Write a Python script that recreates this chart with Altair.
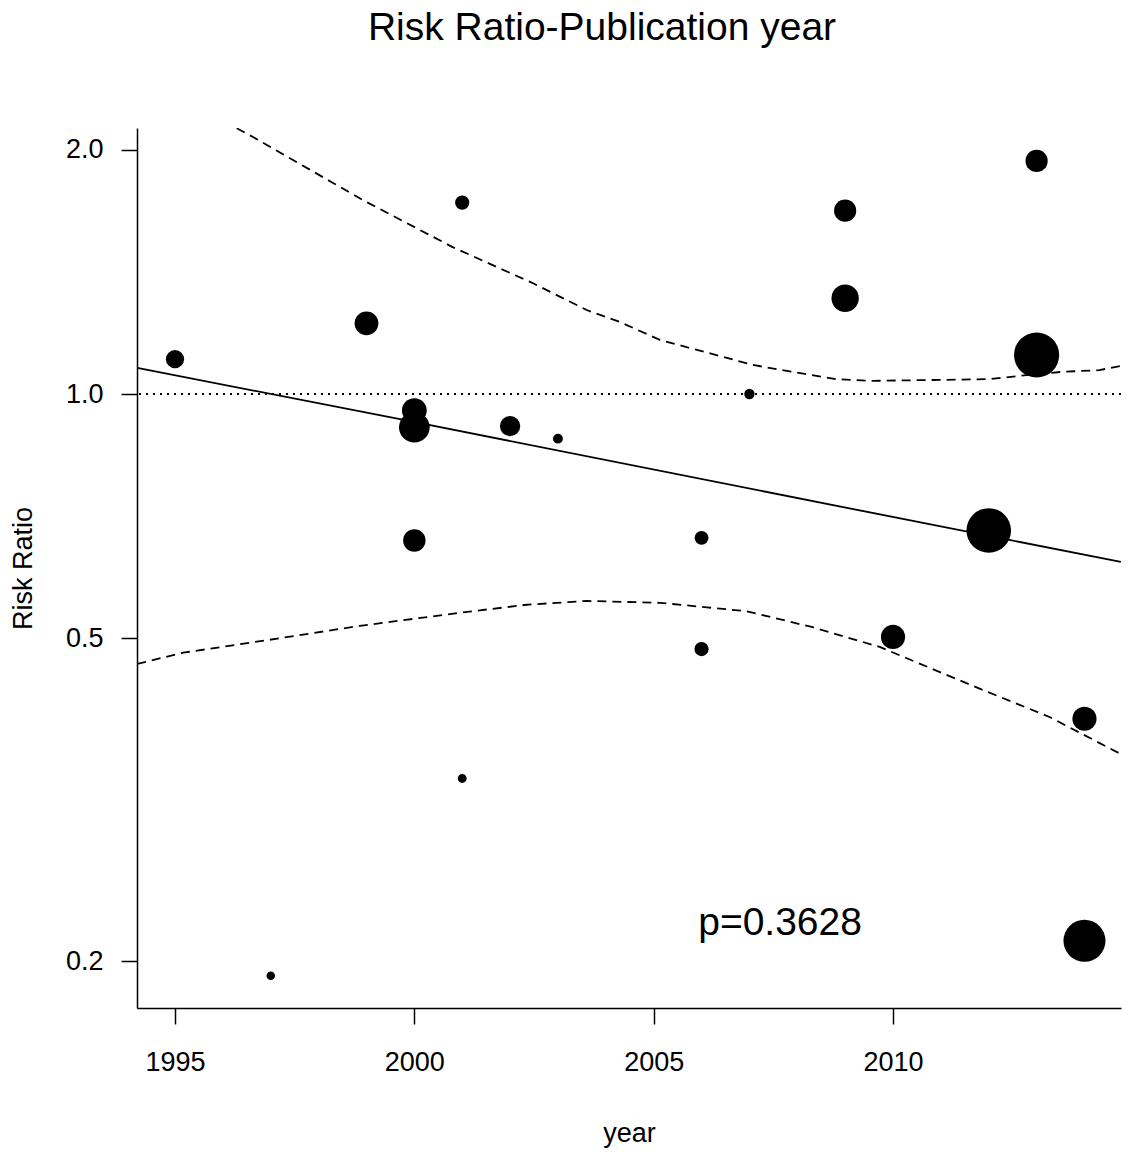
import altair as alt
import pandas as pd

# Study-level risk ratios by publication year; weight (%) sets bubble area
study_year = [1995, 1997, 1999, 2000, 2000, 2000, 2001, 2001, 2002, 2003,
              2006, 2006, 2007, 2009, 2009, 2010, 2012, 2013, 2013, 2014, 2014]
study_rr = [1.104, 0.192, 1.222, 0.954, 0.910, 0.660, 1.721, 0.336, 0.913, 0.881,
            0.665, 0.485, 1.000, 1.682, 1.312, 0.502, 0.679, 1.937, 1.117, 0.398, 0.212]
study_weight = [2.55, 0.56, 4.35, 4.72, 7.25, 3.85, 1.56, 0.61, 3.20, 0.75,
                1.48, 1.56, 0.82, 3.79, 5.75, 4.50, 15.3, 3.79, 15.7, 4.50, 13.6]

# Meta-regression fit
fit_year = [1994.21, 1999.70, 2009.09, 2014.76]
fit_rr = [1.077, 0.931, 0.723, 0.621]

# 95% confidence band around the fit
upper_year = [1996.29, 1996.63, 1998.30, 1998.92, 2000.80, 2002.47, 2003.60, 2004.29,
              2005.13, 2007.07, 2007.69, 2008.82, 2009.57, 2012.01, 2012.79, 2013.54,
              2014.31, 2014.76]
upper_rr = [2.125, 2.073, 1.820, 1.734, 1.517, 1.370, 1.269, 1.227,
            1.166, 1.086, 1.070, 1.043, 1.038, 1.043, 1.055, 1.065,
            1.070, 1.083]
lower_year = [1994.21, 1995.17, 1996.98, 1998.86, 2001.10, 2002.35, 2003.60, 2005.13,
              2006.11, 2006.94, 2008.32, 2009.72, 2011.87, 2013.27, 2014.76]
lower_rr = [0.465, 0.480, 0.498, 0.518, 0.539, 0.550, 0.556, 0.553,
            0.546, 0.540, 0.516, 0.488, 0.432, 0.400, 0.360]

# Axis ranges and ticks
x_domain = [1994.206, 2014.763]
y_domain = [0.1752, 2.1268]
x_ticks = [1995, 2000, 2005, 2010]
y_ticks = [0.2, 0.5, 1.0, 2.0]

# Annotation
p_label = "p=0.3628"
p_year = 2005.93
p_rr = 0.2155

FONT = "Liberation Sans"

studies = pd.DataFrame({"year": study_year, "rr": study_rr, "weight": study_weight})
fit = pd.DataFrame({"year": fit_year, "rr": fit_rr})
upper = pd.DataFrame({"year": upper_year, "rr": upper_rr})
lower = pd.DataFrame({"year": lower_year, "rr": lower_rr})
note = pd.DataFrame({"year": [p_year], "rr": [p_rr], "label": [p_label]})

x_enc = alt.X(
    "year:Q",
    scale=alt.Scale(domain=x_domain, nice=False, zero=False),
    axis=alt.Axis(values=x_ticks, format="d", title="year",
                  labelPadding=25, titleY=112),
)
y_enc = alt.Y(
    "rr:Q",
    scale=alt.Scale(type="log", domain=y_domain, nice=False),
    axis=alt.Axis(values=y_ticks, format=".1f", title="Risk Ratio",
                  labelPadding=18, titleX=-100),
)

null_line = alt.Chart(pd.DataFrame({"rr": [1.0]})).mark_rule(
    color="black", strokeWidth=1.8, strokeDash=[2, 5]
).encode(y=alt.Y("rr:Q", scale=alt.Scale(type="log", domain=y_domain, nice=False)))

upper_line = alt.Chart(upper).mark_line(
    color="black", strokeWidth=1.8, strokeDash=[9, 6], clip=True
).encode(x=x_enc, y=y_enc)

lower_line = alt.Chart(lower).mark_line(
    color="black", strokeWidth=1.8, strokeDash=[9, 6], clip=True
).encode(x=x_enc, y=y_enc)

fit_line = alt.Chart(fit).mark_line(
    color="black", strokeWidth=1.8, clip=True
).encode(x=x_enc, y=y_enc)

bubbles = alt.Chart(studies).mark_circle(
    color="black", opacity=1
).encode(
    x=x_enc,
    y=y_enc,
    size=alt.Size("weight:Q", scale=alt.Scale(domain=[0, 10], range=[0, 1300]),
                  legend=None),
)

p_text = alt.Chart(note).mark_text(
    align="left", baseline="alphabetic", font=FONT, fontSize=39, color="black"
).encode(x=x_enc, y=y_enc, text="label:N")

chart = alt.layer(
    null_line, upper_line, lower_line, fit_line, bubbles, p_text
).properties(
    width=984,
    height=880,
    padding={"left": 137, "top": 128, "right": 7, "bottom": 150},
    autosize=alt.AutoSizeParams(type="none"),
    title=alt.TitleParams(
        text="Risk Ratio-Publication year",
        font=FONT, fontSize=39, fontWeight="normal", color="black",
        anchor="middle", frame="group", offset=80, dx=-27,
    ),
).configure_view(
    stroke=None
).configure_axis(
    grid=False,
    domainColor="black", domainWidth=1.5,
    tickColor="black", tickWidth=1.5, tickSize=16,
    labelFont=FONT, labelFontSize=27, labelColor="black",
    titleFont=FONT, titleFontSize=27, titleFontWeight="normal", titleColor="black",
)

chart.save("out.html", embed_options={"renderer": "svg", "actions": False})
